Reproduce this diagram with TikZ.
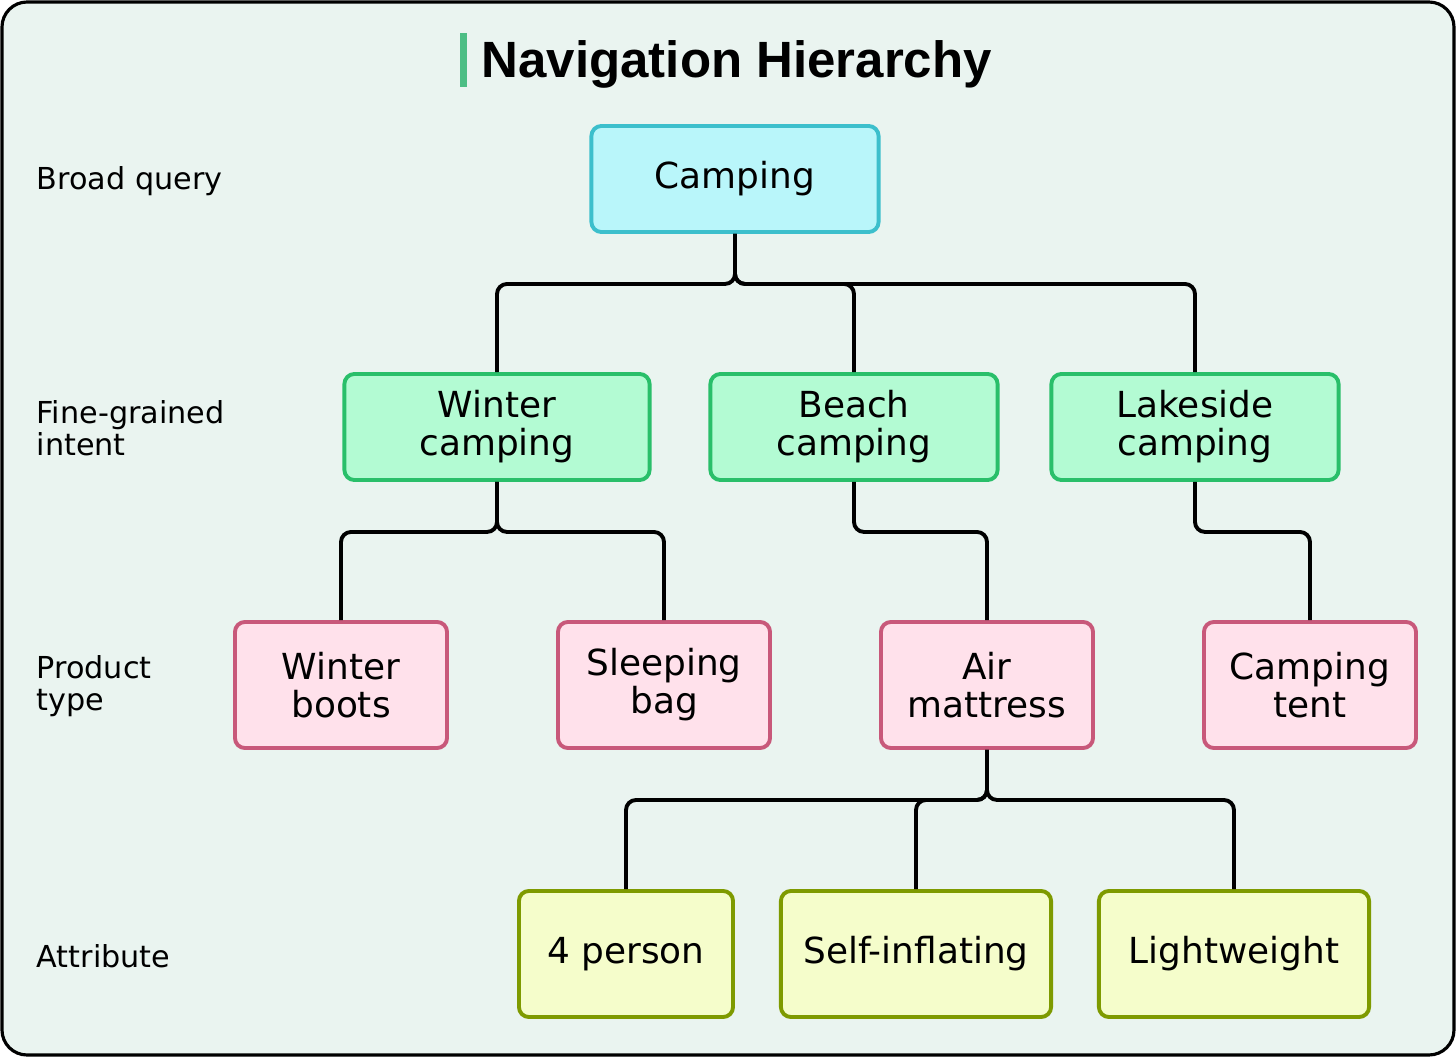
\documentclass[tikz,border=0pt]{standalone}
\usepackage{fontspec}
\setmainfont{DejaVu Sans}
\newfontfamily\titlefont{Liberation Sans}
\definecolor{bgcol}{HTML}{EAF4F0}
\definecolor{barcol}{HTML}{4DBE85}
\definecolor{topfill}{HTML}{B9F6FA}
\definecolor{topdraw}{HTML}{3CBFCC}
\definecolor{intfill}{HTML}{B3FBD3}
\definecolor{intdraw}{HTML}{29BF6A}
\definecolor{prodfill}{HTML}{FFE1EB}
\definecolor{proddraw}{HTML}{C8587A}
\definecolor{attrfill}{HTML}{F5FDCB}
\definecolor{attrdraw}{HTML}{7E9A00}

\begin{document}
\begin{tikzpicture}[x=0.01cm, y=-0.01cm,
    box/.style={draw, rounded corners=1mm, line width=1.1pt, align=center,
        minimum height=1.06cm, inner sep=0pt,
        font=\fontsize{10.2}{10.8}\selectfont},
    lvl/.style={anchor=west, align=left, inner sep=0pt,
        font=\fontsize{8.6}{9.2}\selectfont},
    link/.style={line width=1.1pt, rounded corners=1mm}]
    \useasboundingbox (0,0) rectangle (1456,1057);
    % Frame and title
    \draw[fill=bgcol, line width=0.9pt, rounded corners=2.5mm] (2,2) rectangle (1454,1055);
    \fill[barcol] (460,33) rectangle (467,87);
    \node[anchor=west, inner sep=0pt, font=\titlefont\bfseries\fontsize{14.5}{16}\selectfont] (title) at (481,64) {Navigation Hierarchy};
    % Level labels
    \foreach \name/\txt/\y in {broad/{Broad query}/181, intent/{Fine-grained\\intent}/428,
        type/{Product\\type}/686, attr/{Attribute}/956} {
        \node[lvl] (lbl-\name) at (36,\y) {\txt};
    }
    % Broad query
    \node[box, fill=topfill, draw=topdraw, minimum width=2.87cm] (camping) at (735,179) {Camping};
    % Fine-grained intent
    \foreach \name/\txt/\x/\w in {winter/{Winter\\camping}/497/3.05, beach/{Beach\\camping}/854/2.87,
        lakeside/{Lakeside\\camping}/1195/2.87} {
        \node[box, fill=intfill, draw=intdraw, minimum width=\w cm] (\name) at (\x,427) {\txt};
    }
    % Product type
    \foreach \name/\txt/\x in {boots/{Winter\\boots}/341, bag/{Sleeping\\bag}/664,
        mattress/{Air\\mattress}/987, tent/{Camping\\tent}/1310} {
        \node[box, fill=prodfill, draw=proddraw, minimum width=2.12cm, minimum height=1.26cm] (\name) at (\x,685) {\txt};
    }
    % Attribute
    \foreach \name/\txt/\x/\w in {person/{4 person}/626/2.14, inflating/{Self-inflating}/916/2.70,
        light/{Lightweight}/1234/2.70} {
        \node[box, fill=attrfill, draw=attrdraw, minimum width=\w cm, minimum height=1.26cm] (\name) at (\x,954) {\txt};
    }
    % Links
    \foreach \parent/\kids in {camping/{winter,beach,lakeside}, winter/{boots,bag},
        beach/{mattress}, lakeside/{tent}, mattress/{person,inflating,light}} {
        \foreach \kid in \kids {
            \draw[link] (\parent.south) -- ++(0,50) -| (\kid.north);
        }
    }
\end{tikzpicture}
\end{document}
